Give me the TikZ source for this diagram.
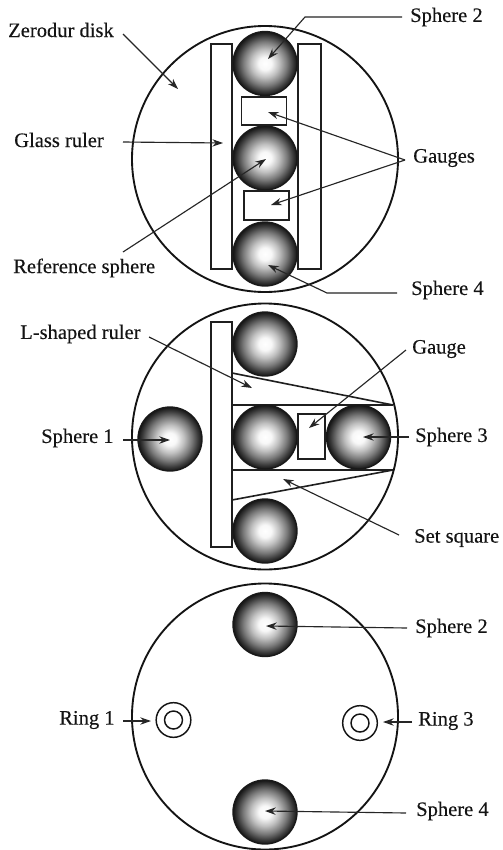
\documentclass[tikz,border=0pt]{standalone}
\usepackage{fontspec}
\setmainfont[FakeBold=0.25]{Liberation Serif}
\usetikzlibrary{calc,arrows.meta}
\pgfdeclareradialshading{ballshade}{\pgfpoint{0bp}{0bp}}{%
  color(0bp)=(white);
  color(5bp)=(black!3);
  color(11bp)=(black!25);
  color(17bp)=(black!52);
  color(22bp)=(black!78);
  color(25bp)=(black!92);
  color(50bp)=(black!92)}
\tikzset{
  x=0.75pt,y=-0.75pt,
  diskc/.style={circle,draw=black!92,line width=1.4pt,minimum size=199.5pt,inner sep=0pt},
  sphere/.style={circle,draw=black!90,line width=1pt,minimum size=48pt,inner sep=0pt,shading=ballshade},
  barbox/.style={rectangle,draw=black!88,line width=1.2pt,fill=white,inner sep=0pt},
  ringo/.style={circle,draw=black!92,line width=1.1pt,minimum size=26pt,inner sep=0pt},
  ringi/.style={circle,draw=black!92,line width=1.1pt,minimum size=13.5pt,inner sep=0pt},
  lbl/.style={font=\fontsize{15.4pt}{17pt}\selectfont,inner xsep=6pt,inner ysep=1pt,text=black!92},
  arr/.style={draw=black!85,line width=0.85pt,-{Stealth[length=8pt,width=5.5pt]}},
  edge/.style={draw=black!88,line width=1.2pt},
}
\begin{document}
\begin{tikzpicture}
\useasboundingbox (0,0) rectangle (503,850);
\fill[white] (0,0) rectangle (503,850);
% top panel
\node[diskc] (d1) at (265,159) {};
\node[barbox,minimum width=16pt,minimum height=169pt] (r1) at (221.5,156.5) {};
\node[barbox,minimum width=17pt,minimum height=169pt] (r2) at (309.5,156.5) {};
\node[sphere] (a2) at (265,63.5) {};
\node[sphere] (a0) at (265,158) {};
\node[sphere] (a4) at (265,254) {};
\node[barbox,minimum width=34pt,minimum height=21pt] (g1) at (264,111) {};
\node[barbox,minimum width=34pt,minimum height=22pt] (g2) at (266.5,205.5) {};
\node[lbl,anchor=west] (t1) at (402,17) {Sphere 2};
\node[lbl,anchor=west] (t2) at (0,30) {Zerodur disk};
\node[lbl,anchor=west] (t3) at (6,140) {Glass ruler};
\node[lbl,anchor=west] (t4) at (405,158) {Gauges};
\node[lbl,anchor=west] (t5) at (5,268) {Reference sphere};
\node[lbl,anchor=west] (t6) at (403,290) {Sphere 4};
\coordinate (e2) at (268,59);
\coordinate (e3) at (178,89);
\coordinate (e4) at (223,143);
\coordinate (e5) at (268,112);
\coordinate (e6) at (271,205);
\coordinate (e7) at (266,159);
\coordinate (e8) at (268,265);
\coordinate (b1) at (305,17);
\coordinate (b2) at (327,293);
\coordinate (f1) at (405,160);
\coordinate (f2) at (123,34);
\coordinate (f3) at (123,142);
\coordinate (f4) at (123,252);
\coordinate (f5) at (397,293);
\draw[arr] (t1.west) -- (b1) -- (e2);
\draw[arr] (f2) -- (e3);
\draw[arr] (f3) -- (e4);
\draw[arr] (f1) -- (e5);
\draw[arr] (f1) -- (e6);
\draw[arr] (f4) -- (e7);
\draw[arr] (f5) -- (b2) -- (e8);
% middle panel
\node[diskc] (d2) at (265,436.5) {};
\node[barbox,minimum width=16pt,minimum height=169pt] (r3) at (221.5,434.5) {};
\coordinate (q1) at (232,373);
\coordinate (q2) at (232,405);
\coordinate (q3) at (232,470);
\coordinate (q4) at (232,500);
\coordinate (q5) at (393,405);
\coordinate (q6) at (393,470);
\draw[edge] (q1) -- (q5) -- (q2);
\draw[edge] (q4) -- (q6) -- (q3);
\node[sphere] (b2s) at (265,344) {};
\node[sphere] (b4s) at (265,531) {};
\node[sphere] (b1s) at (170,439) {};
\node[sphere] (b0s) at (265,437) {};
\node[sphere] (b3s) at (358.5,437) {};
\node[barbox,minimum width=20.5pt,minimum height=34pt] (g3) at (311.5,436.5) {};
\node[lbl,anchor=west] (u1) at (12,334) {L-shaped ruler};
\node[lbl,anchor=west] (u2) at (404,349) {Gauge};
\node[lbl,anchor=west] (u3) at (33,438) {Sphere 1};
\node[lbl,anchor=west] (u4) at (407,437) {Sphere 3};
\node[lbl,anchor=west] (u5) at (406,538) {Set square};
\coordinate (h1) at (149,337);
\coordinate (h2) at (252,388);
\coordinate (h3) at (406,350);
\coordinate (h4) at (309,428);
\coordinate (h5) at (123,440);
\coordinate (h6) at (170,440);
\coordinate (h7) at (409,437);
\coordinate (h8) at (363,437);
\coordinate (h9) at (399,535);
\coordinate (h10) at (283,479);
\draw[arr] (h1) -- (h2);
\draw[arr] (h3) -- (h4);
\draw[arr] (h5) -- (h6);
\draw[arr] (h7) -- (h8);
\draw[arr] (h9) -- (h10);
% bottom panel
\node[diskc] (d3) at (265,716.5) {};
\node[sphere] (c2) at (265,624.5) {};
\node[sphere] (c4) at (265,812) {};
\node[ringo] (o1) at (173.5,720) {};
\node[ringi] (i1) at (173.5,720) {};
\node[ringo] (o3) at (360,723) {};
\node[ringi] (i3) at (360,723) {};
\node[lbl,anchor=west] (v1) at (407,628) {Sphere 2};
\node[lbl,anchor=west] (v2) at (51,720) {Ring 1};
\node[lbl,anchor=west] (v3) at (410,721) {Ring 3};
\node[lbl,anchor=west] (v4) at (408,811) {Sphere 4};
\coordinate (j1) at (407,628);
\coordinate (j2) at (266,626);
\coordinate (j3) at (406,813);
\coordinate (j4) at (265,811);
\coordinate (j5) at (123,721);
\coordinate (j6) at (151,721);
\coordinate (j7) at (412,722);
\coordinate (j8) at (383,722);
\draw[arr] (j1) -- (j2);
\draw[arr] (j3) -- (j4);
\draw[arr] (j5) -- (j6);
\draw[arr] (j7) -- (j8);
\end{tikzpicture}
\end{document}
